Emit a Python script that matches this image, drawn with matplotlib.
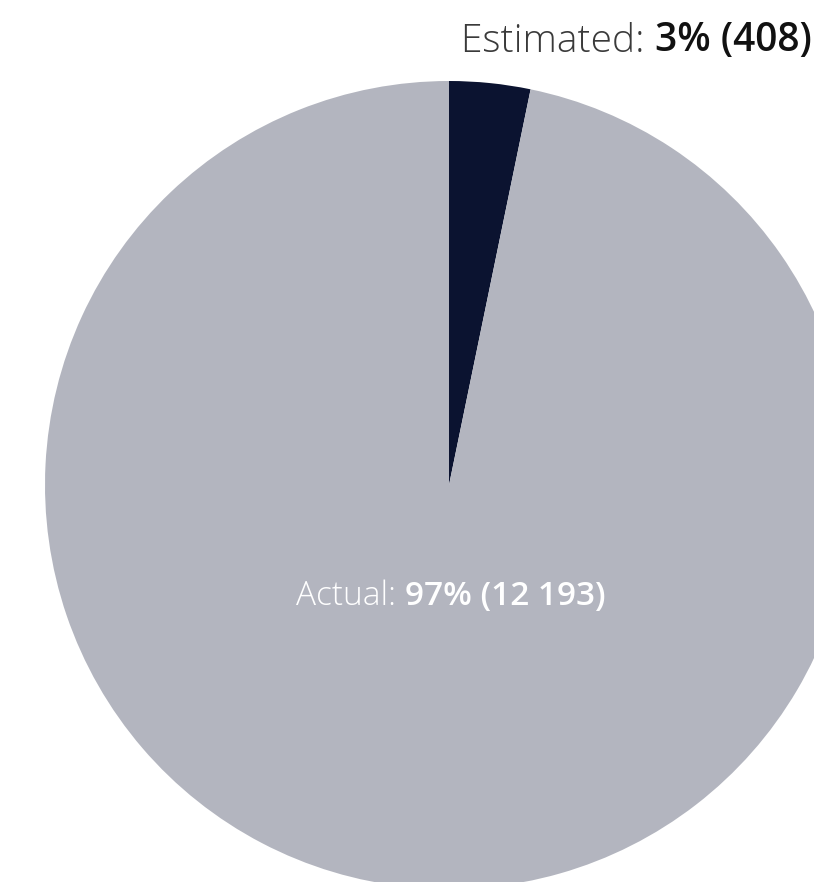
import matplotlib
matplotlib.use("Agg")
import matplotlib.pyplot as plt

# data
labels = ["Estimated", "Actual"]
counts = [408, 12193]
colors = ["#0b1330", "#b3b5bf"]

total = sum(counts)
pcts = [round(100 * c / total) for c in counts]

W, H = 814, 882
cx, cy, r = 449, 485, 404

fig = plt.figure(figsize=(W / 100, H / 100), dpi=100)
ax = fig.add_axes([0, 0, 1, 1])
ax.pie(counts, colors=colors, startangle=90, counterclock=False,
       radius=1, wedgeprops=dict(linewidth=0))
ax.set_aspect("auto")
ax.set_xlim(-cx / r, (W - cx) / r)
ax.set_ylim(-(H - cy) / r, cy / r)
ax.axis("off")

def fmt(n):
    return f"{n:,}".replace(",", " ")

# Estimated label (top right, outside the pie)
t1 = fig.text(461 / W, 1 - 52 / H, labels[0] + ": ", family="Open Sans",
              fontweight="light", fontsize=28, color="#3a3a3a",
              ha="left", va="baseline")
ax.annotate(f"{pcts[0]}% ({fmt(counts[0])})", xy=(1, 0), xycoords=t1,
            family="Open Sans", fontweight="semibold", fontsize=28, color="#111111",
            ha="left", va="bottom", annotation_clip=False)

# Actual label (inside the pie)
t2 = fig.text(296 / W, 1 - 605 / H, labels[1] + ": ", family="Open Sans",
              fontweight="light", fontsize=24, color="white",
              ha="left", va="baseline")
ax.annotate(f"{pcts[1]}% ({fmt(counts[1])})", xy=(1, 0), xycoords=t2,
            family="Open Sans", fontweight="semibold", fontsize=24, color="white",
            ha="left", va="bottom", annotation_clip=False)

fig.savefig("out.png", dpi=100)
